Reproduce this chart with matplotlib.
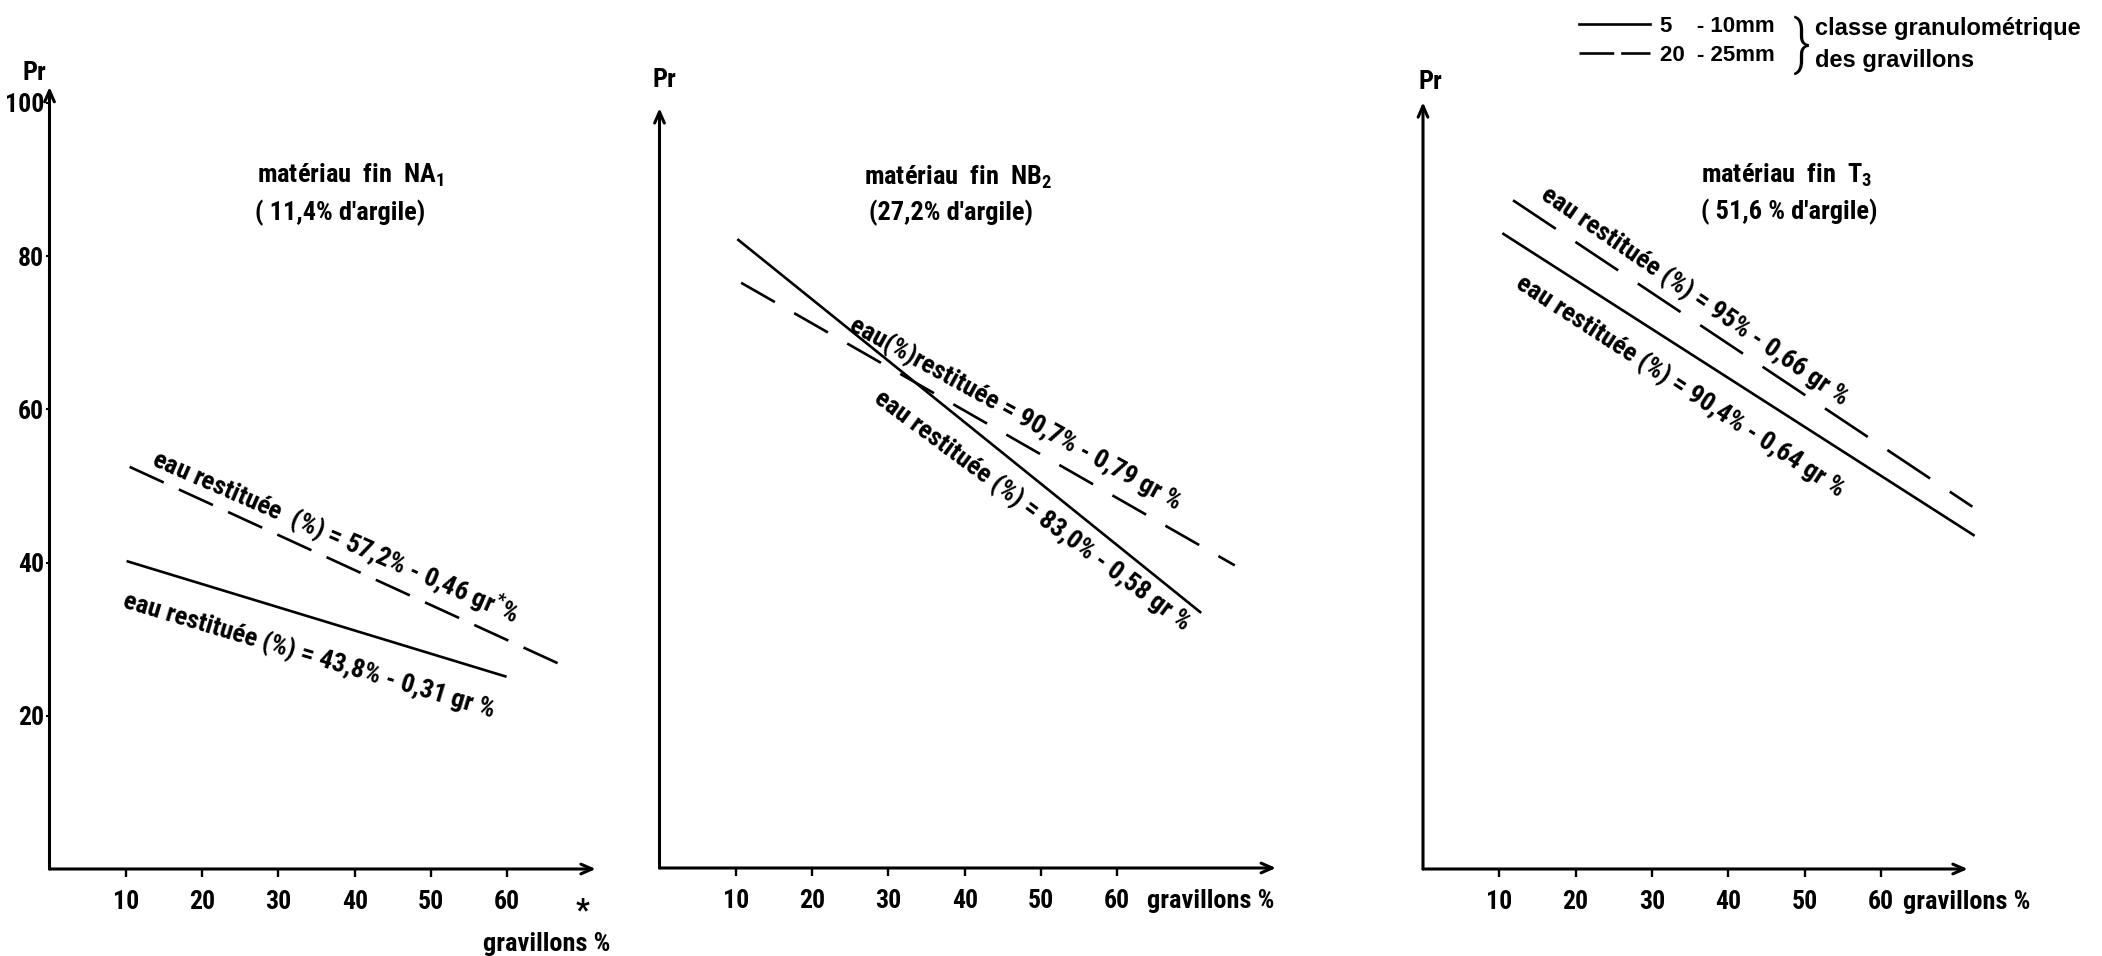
import matplotlib
matplotlib.use("Agg")
import matplotlib.pyplot as plt
from matplotlib.lines import Line2D
from matplotlib import font_manager

# condensed look if available, otherwise Arial-like
names = {f.name for f in font_manager.fontManager.ttflist}
fam = [n for n in ['Roboto Condensed', 'Liberation Sans Narrow', 'Liberation Sans'] if n in names]
plt.rcParams['font.family'] = fam + ['DejaVu Sans']
plt.rcParams['font.weight'] = 'bold'
plt.rcParams['mathtext.default'] = 'regular'
plt.rcParams['lines.scale_dashes'] = False

# data (gravillons %, Pr)
gr_ticks = [10, 20, 30, 40, 50, 60]
pr_ticks = [20, 40, 60, 80, 100]

na1_gr_solid = [10.1, 59.9]
na1_pr_solid = [40.2, 25.1]
na1_gr_dash = [10.5, 68.5]
na1_pr_dash = [52.5, 26.0]

nb2_gr_solid = [10.2, 71.0]
nb2_pr_solid = [82.1, 33.3]
nb2_gr_dash = [10.7, 75.4]
nb2_pr_dash = [76.4, 39.5]

t3_gr_solid = [10.4, 72.3]
t3_pr_solid = [83.0, 43.5]
t3_gr_dash = [11.8, 72.0]
t3_pr_dash = [87.3, 47.3]

titles = ["matériau  fin  NA$_1$", "matériau  fin  NB$_2$", "matériau  fin  T$_3$"]
subtitles = ["( 11,4% d'argile)", "(27,2% d'argile)", "( 51,6 % d'argile)"]
labels_solid = ["eau restituée (%) = 43,8% - 0,31 gr %",
                "eau restituée (%) = 83,0% - 0,58 gr %",
                "eau restituée (%) = 90,4% - 0,64 gr %"]
labels_dash = ["eau restituée  (%) = 57,2% - 0,46 gr$^{*}$%",
               "eau(%)restituée = 90,7% - 0,79 gr %",
               "eau restituée (%) = 95% - 0,66 gr %"]
legend_labels = ["5    - 10mm", "20  - 25mm"]
legend_note = ["classe granulométrique", "des gravillons"]

# figure geometry (pixels)
W, H, DPI = 2102, 956, 100
SX, SY = 7.63, 7.66          # pixels per data unit
XMAX, YMAX = 82, 106
origins = [(49.5, 869), (659.5, 868), (1423, 869)]
x_tips = [71.6, 80.8, 71.4]
y_tips = [102.1, 99.2, 100.1]
pr_pos = [(-2.0, 103.0), (0.7, 102.0), (1.0, 101.8)]
title_pos = [(39.4, 90.6), (39.1, 90.2), (47.7, 90.6)]
sub_pos = [(38.1, 85.6), (38.2, 85.5), (48.0, 85.8)]
lab_solid_pos = [(9.5, 34.2, 16.6), (27.9, 60.9, 36.5), (11.9, 76.0, 33.0)]
lab_dash_pos = [(13.2, 52.7, 23.5), (24.7, 70.2, 28.8), (15.3, 87.6, 34.5)]
dash_styles = [(27, 12), (28, 16), (37, 17)]

solid = [(na1_gr_solid, na1_pr_solid), (nb2_gr_solid, nb2_pr_solid), (t3_gr_solid, t3_pr_solid)]
dashed = [(na1_gr_dash, na1_pr_dash), (nb2_gr_dash, nb2_pr_dash), (t3_gr_dash, t3_pr_dash)]

fig = plt.figure(figsize=(W / DPI, H / DPI), dpi=DPI)
fig.patch.set_facecolor('white')

FS = 19
TFS = 18.5
LW = 1.9

for i in range(3):
    x0, y0 = origins[i]
    ax = fig.add_axes([x0 / W, (H - y0) / H, XMAX * SX / W, YMAX * SY / H])
    ax.set_xlim(0, XMAX)
    ax.set_ylim(0, YMAX)
    ax.patch.set_alpha(0)
    for s in ax.spines.values():
        s.set_visible(False)

    # axes with arrow heads
    arrow = dict(arrowstyle='->,head_length=0.8,head_width=0.35', lw=2.2, color='black',
                 shrinkA=0, shrinkB=0)
    ax.annotate('', xy=(x_tips[i], 0), xytext=(0, 0), arrowprops=arrow, annotation_clip=False)
    ax.annotate('', xy=(0, y_tips[i]), xytext=(0, 0), arrowprops=arrow, annotation_clip=False)

    ax.set_xticks(gr_ticks)
    ax.set_xticklabels([str(t) for t in gr_ticks])
    ax.tick_params(axis='x', direction='out', length=6, width=1.7, pad=9, labelsize=TFS)
    if i == 0:
        ax.set_yticks(pr_ticks)
        ax.set_yticklabels([str(t) for t in pr_ticks])
        ax.tick_params(axis='y', direction='out', length=3, width=1.5, pad=1, labelsize=TFS)
    else:
        ax.set_yticks([])

    ax.plot(solid[i][0], solid[i][1], color='black', lw=LW, solid_capstyle='butt')
    ax.plot(dashed[i][0], dashed[i][1], color='black', lw=LW, dashes=dash_styles[i])

    ax.text(pr_pos[i][0], pr_pos[i][1], "Pr", fontsize=FS, ha='center', va='baseline')
    ax.text(title_pos[i][0], title_pos[i][1], titles[i], fontsize=FS, ha='center', va='center')
    ax.text(sub_pos[i][0], sub_pos[i][1], subtitles[i], fontsize=FS, ha='center', va='center')

    xs, ys, rs = lab_solid_pos[i]
    ax.text(xs, ys, labels_solid[i], fontsize=FS, rotation=-rs, rotation_mode='anchor',
            ha='left', va='baseline')
    xd, yd, rd = lab_dash_pos[i]
    ax.text(xd, yd, labels_dash[i], fontsize=FS, rotation=-rd, rotation_mode='anchor',
            ha='left', va='baseline')

    if i == 0:
        ax.text(73.5, -9.8, "gravillons %", fontsize=FS, ha='right', va='center', clip_on=False)
        ax.text(69.8, -5.4, "*", fontsize=FS + 3, ha='center', va='center', clip_on=False)
    else:
        ax.text(63.9 if i == 1 else 62.9, -4.3, "gravillons %", fontsize=FS, ha='left',
                va='center', clip_on=False)

# legend, top right
h_solid = Line2D([], [], color='black', lw=LW)
h_dash = Line2D([], [], color='black', lw=LW, dashes=(25, 5))
fig.legend([h_solid, h_dash], legend_labels, loc='upper left',
           bbox_to_anchor=(1579 / W, 1 - 16 / H), frameon=False,
           prop=dict(family=['Liberation Sans', 'DejaVu Sans'], size=16, weight='bold'),
           handlelength=3.2, handletextpad=0.45, labelspacing=0.35, borderpad=0,
           borderaxespad=0)
fig.text(1801 / W, 1 - 45 / H, "}", fontsize=44, fontweight='light', ha='center', va='center')
fig.text(1815 / W, 1 - 28 / H, legend_note[0], fontsize=17, ha='left', va='center',
         family=['Liberation Sans', 'DejaVu Sans'], fontweight='bold')
fig.text(1815 / W, 1 - 61 / H, legend_note[1], fontsize=17, ha='left', va='center',
         family=['Liberation Sans', 'DejaVu Sans'], fontweight='bold')

fig.savefig("out.png", dpi=DPI, facecolor='white')
